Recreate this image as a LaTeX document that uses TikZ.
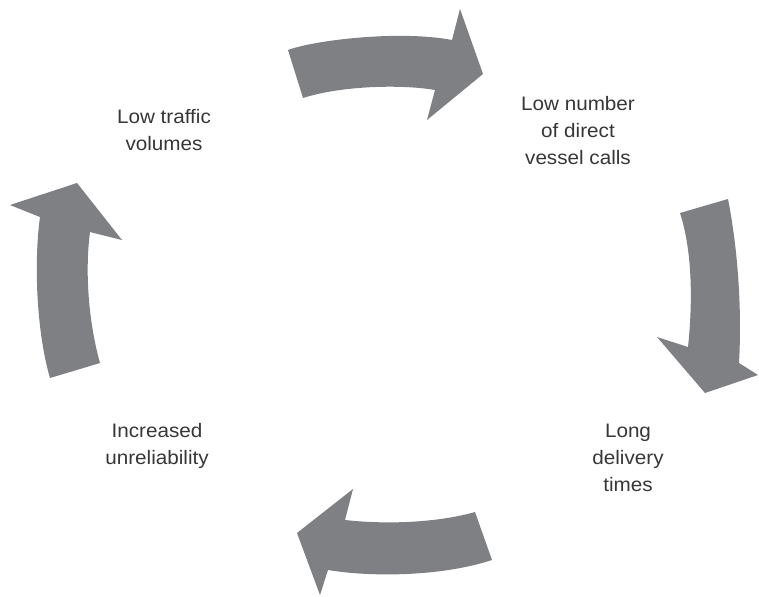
\documentclass[tikz,border=0pt]{standalone}
\usepackage{fontspec}
\setmainfont{Liberation Sans}[FakeStretch=1.06]
\definecolor{arrowgray}{RGB}{127,128,132}
\definecolor{textgray}{RGB}{55,55,55}
\begin{document}
\begin{tikzpicture}[x=1pt,y=-1pt,
  cyclearrow/.style={fill=arrowgray,draw=none},
  label/.style={align=center,text=textgray,font=\fontsize{19.5}{27}\selectfont,inner sep=0pt}]
\useasboundingbox[fill=white] (0,0) rectangle (759,596);
% top arrow
\fill[cyclearrow] (288,50) .. controls (315,40) and (400,30) .. (452,40) -- (460,9) -- (483,74) -- (427,120) -- (435,90) .. controls (400,84) and (340,86) .. (303,98) -- cycle;
% right arrow
\fill[cyclearrow] (680,213) -- (728,199) .. controls (738,250) and (742,310) .. (739,363) -- (758,375) -- (705,393) -- (657,337) -- (688,347) .. controls (693,300) and (692,250) .. (680,213) -- cycle;
% bottom arrow
\fill[cyclearrow] (475,512) -- (492,560) .. controls (440,577) and (370,577) .. (328,570) -- (320,595) -- (297,533) -- (353,489) -- (345,520) .. controls (390,525) and (440,522) .. (475,512) -- cycle;
% left arrow
\fill[cyclearrow] (50,378) -- (100,363) .. controls (88,320) and (85,270) .. (90,232) -- (122,240) -- (77,183) -- (10,205) -- (40,217) .. controls (34,260) and (36,330) .. (50,378) -- cycle;
% labels
\node[label] (traffic) at (164,130) {Low traffic\\volumes};
\node[label] (calls) at (578,130.5) {Low number\\of direct\\vessel calls};
\node[label] (delivery) at (628,457.5) {Long\\delivery\\times};
\node[label] (unrel) at (157,446) {Increased\\unreliability};
\end{tikzpicture}
\end{document}
